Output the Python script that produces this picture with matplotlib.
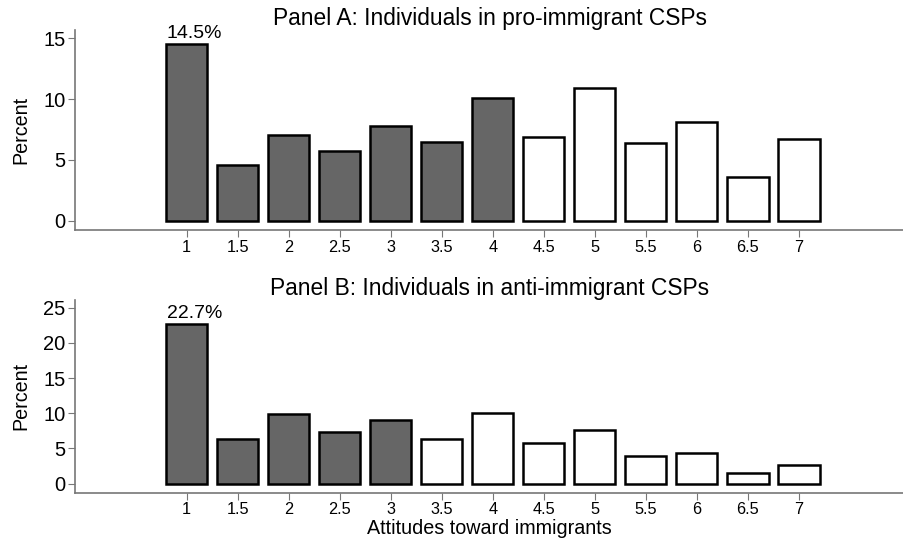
import numpy as np
import matplotlib
matplotlib.use("Agg")
import matplotlib.pyplot as plt

plt.rcParams['font.family'] = ['Liberation Sans', 'DejaVu Sans']

# attitude scale
attitudes = [1, 1.5, 2, 2.5, 3, 3.5, 4, 4.5, 5, 5.5, 6, 6.5, 7]
tick_labels = ["1", "1.5", "2", "2.5", "3", "3.5", "4", "4.5", "5", "5.5", "6", "6.5", "7"]

# Panel A: pro-immigrant CSPs
pct_pro = [14.5, 4.6, 7.05, 5.7, 7.8, 6.5, 10.1, 6.9, 10.9, 6.4, 8.1, 3.6, 6.7]
n_dark_pro = 7
# Panel B: anti-immigrant CSPs
pct_anti = [22.7, 6.4, 9.9, 7.3, 9.1, 6.4, 10.1, 5.8, 7.6, 4.0, 4.4, 1.5, 2.7]
n_dark_anti = 5

fig = plt.figure(figsize=(9.04, 5.45), dpi=100)
axA = fig.add_axes([0.0833, 0.578, 0.9167, 0.367])
axB = fig.add_axes([0.0833, 0.096, 0.9167, 0.3536])

def panel(ax, vals, ndark, title, yticks, ylim):
    cols = ["#666666"] * ndark + ["white"] * (len(vals) - ndark)
    ax.bar(attitudes, vals, width=0.405, color=cols, edgecolor="black", linewidth=1.8)
    ax.set_xlim(-0.09, 8.03)
    ax.set_ylim(ylim)
    ax.set_xticks(attitudes)
    ax.set_xticklabels(tick_labels, fontsize=11.7)
    ax.set_yticks(yticks)
    ax.tick_params(axis="y", labelsize=14.5, length=5, color="#777777", pad=2)
    ax.tick_params(axis="x", length=5, color="#777777", pad=2)
    for s in ["top", "right"]:
        ax.spines[s].set_visible(False)
    for s in ["left", "bottom"]:
        ax.spines[s].set_color("#777777")
        ax.spines[s].set_linewidth(1.2)
    ax.set_ylabel("Percent", fontsize=14.2, labelpad=9)
    ax.set_title(title, fontsize=16.4, pad=3)
    # label on the first bar
    ax.text(attitudes[0] + 0.08, vals[0] + 0.1 * (ylim[1] - ylim[0]) / 10, "%.1f%%" % vals[0],
            ha="center", va="bottom", fontsize=14)

panel(axA, pct_pro, n_dark_pro, "Panel A: Individuals in pro-immigrant CSPs", [0, 5, 10, 15], (-0.74, 15.66))
panel(axB, pct_anti, n_dark_anti, "Panel B: Individuals in anti-immigrant CSPs", [0, 5, 10, 15, 20, 25], (-1.28, 26.1))
axB.set_xlabel("Attitudes toward immigrants", fontsize=14.2, labelpad=1)

fig.savefig("out.png", dpi=100)
